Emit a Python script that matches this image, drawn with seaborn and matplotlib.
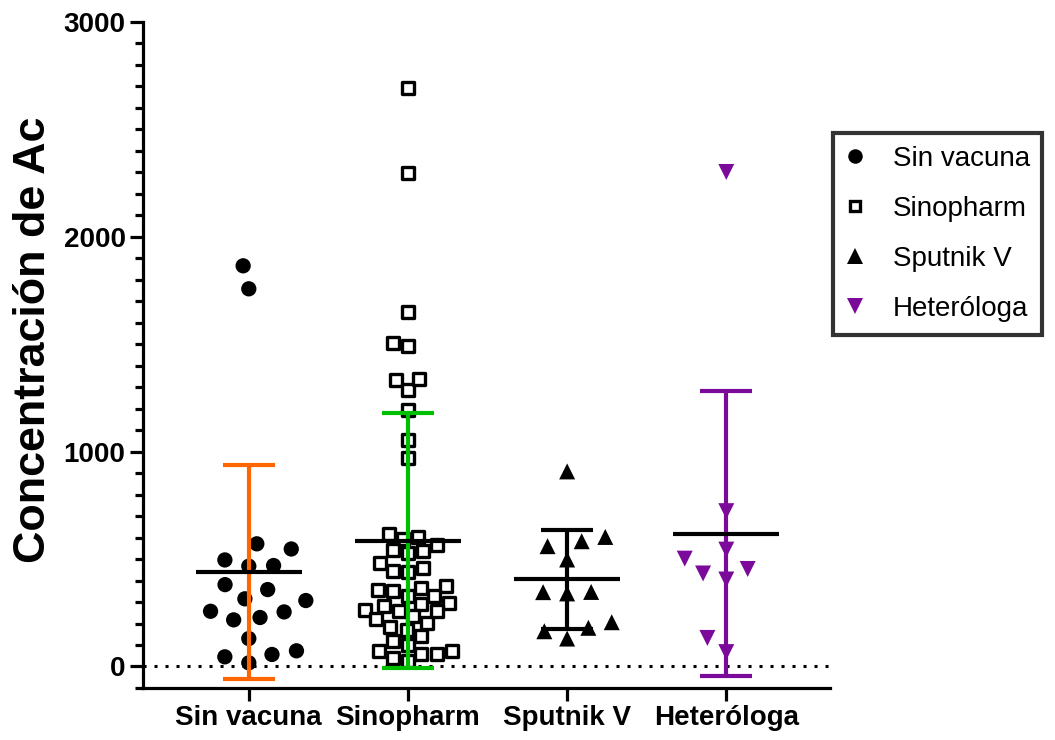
import numpy as np
import pandas as pd
import matplotlib
matplotlib.use("Agg")
import matplotlib.pyplot as plt
from matplotlib.lines import Line2D
from matplotlib.ticker import MultipleLocator
import seaborn as sns

# ---------------- data ----------------
categories = ["Sin vacuna", "Sinopharm", "Sputnik V", "Heteróloga"]

sin_vacuna = [257, 130, 17, 571, 470, 315, 217, 73, 547, 467, 381, 307, 228, 45,
              496, 358, 254, 56, 1758, 1865]
sinopharm = [350, 293, 101, 40,
             619, 536, 482, 355, 265, 203, 141, 71, 1332,
             567, 443, 366, 296, 234, 172, 118, 60, 1650, 1508, 1288, 1195,
             603, 529, 459, 374, 281, 219, 74, 2692, 2299, 1490, 1056, 971,
             594, 541, 439, 330, 257, 185, 25, 1338,
             327, 256, 60]
sputnik_v = [908, 560, 603, 583, 498, 340, 346, 347, 206, 164, 180, 130]
heterologa = [723, 544, 502, 454, 433, 405, 133, 67, 2302]

yticks = [0, 1000, 2000, 3000]

# ---------------- style ----------------
sns.set_theme(style="ticks")
plt.rcParams["font.family"] = ["Liberation Sans", "DejaVu Sans"]
for k in ["text.color", "axes.labelcolor", "xtick.color", "ytick.color", "axes.edgecolor"]:
    plt.rcParams[k] = "black"

series = [sin_vacuna, sinopharm, sputnik_v, heterologa]
markers = ["o", "s", "^", "v"]
face = ["black", "white", "black", "#7B0A9B"]
edge = ["none", "black", "none", "none"]
sizes = [11, 8.2, 11.5, 11.5]
# filled markers get an invisible edge so the swarm spreads like the original
lws = [6, 2.4, 5, 5]
bar_colors = ["#FF6600", "#00BF00", "black", "#7B0A9B"]

df = pd.concat([pd.DataFrame({"grupo": c, "valor": v}) for c, v in zip(categories, series)],
               ignore_index=True)

fig = plt.figure(figsize=(10.55, 7.4), dpi=100)
ax = fig.add_axes([0.1355, 0.0703, 0.651, 0.9])

ax.axhline(0, color="black", lw=2.2, ls=(0, (1, 2.6)), zorder=0.5)

for i, cat in enumerate(categories):
    sub = df[df["grupo"] == cat]
    sns.swarmplot(data=sub, x="grupo", y="valor", order=categories, ax=ax,
                  marker=markers[i], size=sizes[i], color=face[i],
                  facecolor=face[i], edgecolor=edge[i], linewidth=lws[i],
                  zorder=3)

for i, vals in enumerate(series):
    arr = np.asarray(vals, dtype=float)
    m = arr.mean()
    sd = arr.std(ddof=1)
    ax.errorbar(i, m, yerr=sd, fmt="none", ecolor=bar_colors[i], elinewidth=3,
                capsize=19, capthick=3, zorder=4)
    ax.hlines(m, i - 0.333, i + 0.333, color="black", lw=3, zorder=5)

ax.set_xlim(-0.665, 3.65)
ax.set_ylim(-100, 3000)
ax.set_yticks(yticks)
ax.yaxis.set_minor_locator(MultipleLocator(100))
ax.set_xticks(range(len(categories)))
ax.set_xticklabels(categories, fontsize=20, fontweight="bold", color="black")
for lab in ax.get_yticklabels():
    lab.set_fontsize(20)
    lab.set_fontweight("bold")
    lab.set_color("black")
ax.set_xlabel("")
ax.set_ylabel("Concentración de Ac", fontsize=32.3, fontweight="bold", color="black")
ax.yaxis.set_label_coords(-0.1296, 0.5225)

sns.despine(ax=ax)
for s in ["left", "bottom"]:
    ax.spines[s].set_linewidth(2.3)
    ax.spines[s].set_color("black")
ax.tick_params(axis="both", which="major", length=9.5, width=2.3, color="black",
               labelcolor="black", pad=3)
ax.tick_params(axis="y", which="minor", length=5.5, width=2.3, color="black")
ax.tick_params(axis="x", which="minor", length=0)
ax.grid(False)

handles = [Line2D([], [], ls="none", marker=markers[i], markersize=sizes[i] * (0.95 if i != 1 else 0.9),
                  markerfacecolor=face[i], markeredgecolor=("black" if i == 1 else face[i]),
                  markeredgewidth=(2.4 if i == 1 else 0)) for i in range(4)]
leg = fig.legend(handles, categories, loc="upper left", bbox_to_anchor=(0.7896, 0.820),
                 fontsize=20, frameon=True, fancybox=False, edgecolor="black",
                 borderpad=0.45, labelspacing=0.87, handlelength=0.7, handletextpad=1.0,
                 borderaxespad=0)
leg.get_frame().set_linewidth(3)
for t in leg.get_texts():
    t.set_color("black")

fig.savefig("out.png", dpi=100)
